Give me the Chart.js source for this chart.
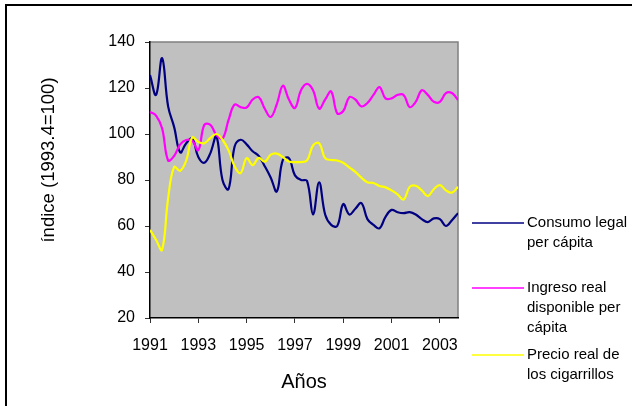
<!DOCTYPE html>
<html>
<head>
<meta charset="utf-8">
<script src="https://cdn.jsdelivr.net/npm/chart.js@4.4.1/dist/chart.umd.min.js"></script>
<style>
  body { margin: 0; background: #fff; }
  canvas { display: block; }
</style>
</head>
<body>
<canvas id="grafico" width="632" height="406"></canvas>
<script>
// trimestres 1991.1 - 2003.4
const trimestres = [
  '1991.1','1991.2','1991.3','1991.4','1992.1','1992.2','1992.3','1992.4',
  '1993.1','1993.2','1993.3','1993.4','1994.1','1994.2','1994.3','1994.4',
  '1995.1','1995.2','1995.3','1995.4','1996.1','1996.2','1996.3','1996.4',
  '1997.1','1997.2','1997.3','1997.4','1998.1','1998.2','1998.3','1998.4',
  '1999.1','1999.2','1999.3','1999.4','2000.1','2000.2','2000.3','2000.4',
  '2001.1','2001.2','2001.3','2001.4','2002.1','2002.2','2002.3','2002.4',
  '2003.1','2003.2','2003.3','2003.4'
];

const consumo = [
  125.6, 117, 133, 112, 103, 92, 96, 98,
  90, 87.5, 91.7, 99, 80, 76, 94.5, 97.5,
  95.5, 92.5, 90.5, 86, 81, 75, 88.7, 89.5,
  82, 80, 79.6, 65, 79, 65, 60.5, 60,
  69.5, 65, 67.5, 70, 63, 60.5, 59, 64,
  67, 66, 65.6, 66, 65, 63, 61.7, 63.3,
  63, 60, 62.5, 65.6
];

const ingreso = [
  109.6, 108, 102.5, 88.5, 90.5, 95.5, 97.4, 97,
  93, 104, 104, 99.5, 98, 106, 112.8, 111.7,
  111.5, 115, 116, 111, 107.4, 113, 121, 115,
  111.3, 119, 121.8, 119, 111, 115, 118.5, 109,
  110, 116, 115, 112, 113.5, 117, 120.4, 115.5,
  115.5, 117, 117, 111.7, 114, 119, 117, 114,
  114, 117.8, 117.8, 114.8
];

const precio = [
  58.3, 54, 49.6, 72, 85.7, 84, 88.5, 98.5,
  96.5, 96, 98.3, 100, 97.5, 93, 86, 83,
  89.5, 86.5, 89.6, 88, 91, 91.5, 90, 88,
  87.8, 87.8, 88.5, 95, 96, 89.5, 88.7, 88.5,
  87.5, 85.5, 83.5, 81, 79, 78.7, 77.4, 76.8,
  75.5, 73.7, 71.5, 77, 77.5, 75.5, 73, 76,
  77.8, 75.5, 74.5, 77
];

const aniosEje = [1991, 1993, 1995, 1997, 1999, 2001, 2003];

const series = [
  { nombre: ['Consumo legal', 'per cápita'], datos: consumo, color: '#000080' },
  { nombre: ['Ingreso real', 'disponible per', 'cápita'], datos: ingreso, color: '#FF00FF' },
  { nombre: ['Precio real de', 'los cigarrillos'], datos: precio, color: '#FFFF00' }
];

// pasa '1993.4' a 1993.75 para el eje lineal
function aX(t) {
  const partes = t.split('.');
  return parseInt(partes[0]) + (parseInt(partes[1]) - 1) / 4;
}

Chart.defaults.font.family = '"Liberation Sans", Arial, sans-serif';
Chart.defaults.color = '#000';

const marco = {
  id: 'marco',
  beforeDraw(chart) {
    const { ctx, chartArea: a } = chart;
    ctx.save();
    ctx.fillStyle = '#C0C0C0';
    ctx.fillRect(a.left, a.top, a.right - a.left, a.bottom - a.top);
    ctx.strokeStyle = '#808080';
    ctx.lineWidth = 1.5;
    ctx.beginPath();
    ctx.moveTo(a.left, a.top);
    ctx.lineTo(a.right, a.top);
    ctx.lineTo(a.right, a.bottom);
    ctx.stroke();
    // marco exterior
    ctx.strokeStyle = '#000';
    ctx.lineWidth = 2;
    ctx.beginPath();
    ctx.moveTo(6, 406);
    ctx.lineTo(6, 5);
    ctx.lineTo(632, 5);
    ctx.stroke();
    ctx.restore();
  },
  afterDraw(chart) {
    const { ctx } = chart;
    ctx.save();
    // titulo eje y
    ctx.translate(49, 160);
    ctx.rotate(-Math.PI / 2);
    ctx.font = '18.5px "Liberation Sans", Arial, sans-serif';
    ctx.fillStyle = '#000';
    ctx.textAlign = 'center';
    ctx.textBaseline = 'middle';
    ctx.fillText('índice (1993.4=100)', 0, 0);
    ctx.restore();

    // leyenda
    const filas = [223, 288, 355];
    ctx.save();
    ctx.font = '15px "Liberation Sans", Arial, sans-serif';
    ctx.textBaseline = 'middle';
    ctx.fillStyle = '#000';
    series.forEach((s, i) => {
      const y = filas[i];
      ctx.strokeStyle = s.color;
      ctx.lineWidth = 1.5;
      ctx.beginPath();
      ctx.moveTo(472, y);
      ctx.lineTo(524, y);
      ctx.stroke();
      s.nombre.forEach((linea, k) => ctx.fillText(linea, 527, y + k * 20));
    });
    ctx.restore();
  }
};

const ctx = document.getElementById('grafico').getContext('2d');

new Chart(ctx, {
  type: 'line',
  data: {
    datasets: series.map((s, i) => ({
      label: s.nombre.join(' '),
      data: s.datos.map((v, j) => ({ x: aX(trimestres[j]), y: v })),
      borderColor: s.color,
      borderWidth: 2.2,
      pointRadius: 0,
      tension: 0.4,
      fill: false,
      order: 2 - i
    }))
  },
  options: {
    responsive: false,
    animation: false,
    layout: { padding: { top: 42, right: 174, left: 0, bottom: 0 } },
    plugins: {
      legend: { display: false },
      tooltip: { enabled: false }
    },
    scales: {
      x: {
        type: 'linear',
        min: 1991,
        max: 2003.75,
        afterBuildTicks: s => { s.ticks = aniosEje.map(v => ({ value: v })); },
        afterFit: s => { s.height = 88; },
        ticks: {
          font: { size: 16 }, padding: 13, maxRotation: 0, autoSkip: false, color: '#000',
          callback: v => String(v)
        },
        grid: { drawOnChartArea: false, tickLength: 5, color: '#333' },
        border: { color: '#000', width: 1.5 },
        title: { display: true, text: 'Años', font: { size: 20 }, padding: { top: 0, bottom: 12 }, color: '#000' }
      },
      y: {
        min: 20,
        max: 140,
        afterFit: s => { s.width = 150; },
        ticks: { stepSize: 20, font: { size: 16 }, padding: 10, color: '#000' },
        grid: { drawOnChartArea: false, tickLength: 5, color: '#333' },
        border: { color: '#000', width: 1.5 }
      }
    }
  },
  plugins: [marco]
});
</script>
</body>
</html>
